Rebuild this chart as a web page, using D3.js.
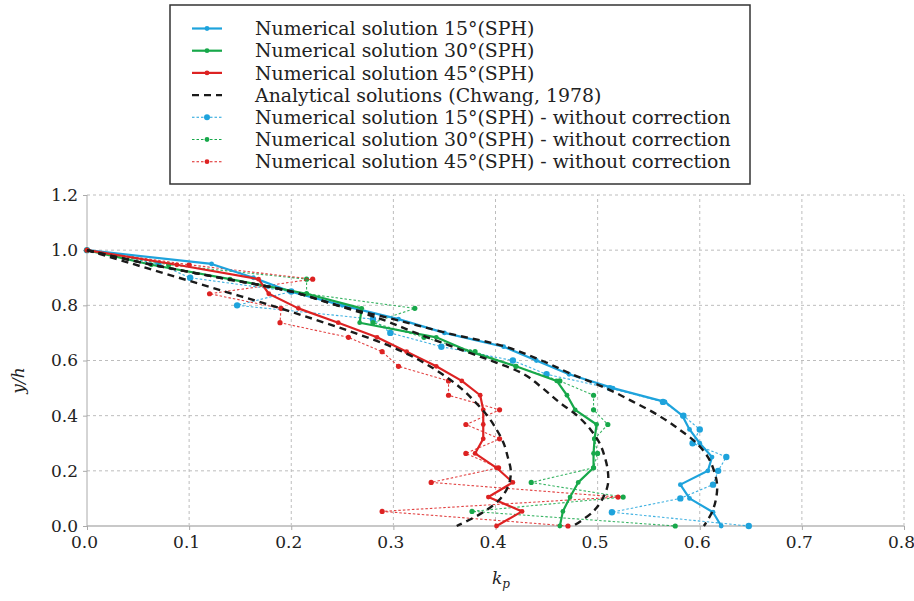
<!DOCTYPE html>
<html>
<head>
<meta charset="utf-8">
<script src="https://cdn.jsdelivr.net/npm/d3@7"></script>
<style>
  body { margin: 0; background: #fff; }
  svg text { font-family: "DejaVu Serif", serif; fill: #222; }
</style>
</head>
<body>
<svg id="chart" width="914" height="601"></svg>
<script>
// y levels (y/h) of the SPH samples
const yLevels15 = [1.0, 0.95, 0.90, 0.85, 0.80, 0.75, 0.70, 0.65, 0.60, 0.55, 0.50, 0.45, 0.40, 0.35, 0.30, 0.25, 0.20, 0.15, 0.10, 0.05, 0.0];
const yLevels = [1.0, 0.947, 0.895, 0.842, 0.789, 0.737, 0.684, 0.632, 0.579, 0.526, 0.474, 0.421, 0.368, 0.316, 0.263, 0.211, 0.158, 0.105, 0.053, 0.0];

// k_p values, corrected SPH
const kp15 = [0, 0.122, 0.163, 0.199, 0.25, 0.305, 0.35, 0.408, 0.44, 0.472, 0.515, 0.566, 0.583, 0.59, 0.60, 0.612, 0.608, 0.581, 0.59, 0.613, 0.621];
const kp30 = [0, 0.063, 0.14, 0.215, 0.269, 0.267, 0.342, 0.375, 0.42, 0.46, 0.47, 0.478, 0.499, 0.497, 0.496, 0.496, 0.481, 0.473, 0.466, 0.463];
const kp45 = [0, 0.088, 0.168, 0.178, 0.207, 0.246, 0.284, 0.313, 0.342, 0.367, 0.385, 0.388, 0.388, 0.388, 0.38, 0.401, 0.417, 0.393, 0.426, 0.401];

// k_p values, SPH without correction
const kp15Raw = [0, 0.07, 0.101, 0.2, 0.147, 0.28, 0.297, 0.347, 0.417, 0.45, 0.512, 0.564, 0.584, 0.60, 0.593, 0.626, 0.618, 0.613, 0.581, 0.514, 0.648];
const kp30Raw = [0, 0.08, 0.215, 0.215, 0.321, 0.28, 0.33, 0.38, 0.42, 0.463, 0.496, 0.496, 0.51, 0.497, 0.5, 0.496, 0.435, 0.525, 0.377, 0.576];
const kp45Raw = [0, 0.1, 0.221, 0.12, 0.19, 0.189, 0.256, 0.289, 0.305, 0.354, 0.354, 0.404, 0.371, 0.404, 0.371, 0.403, 0.337, 0.52, 0.289, 0.471];

// analytical (Chwang, 1978)
const yAnalytic = [1.0, 0.95, 0.90, 0.85, 0.80, 0.75, 0.70, 0.65, 0.60, 0.55, 0.50, 0.45, 0.40, 0.35, 0.30, 0.25, 0.20, 0.15, 0.10, 0.05, 0.0];
const ana15 = [0, 0.06, 0.13, 0.2, 0.245, 0.3, 0.352, 0.41, 0.445, 0.475, 0.508, 0.535, 0.56, 0.58, 0.597, 0.608, 0.614, 0.617, 0.616, 0.612, 0.604];
const ana30 = [0, 0.06, 0.13, 0.2, 0.245, 0.288, 0.322, 0.358, 0.395, 0.428, 0.446, 0.462, 0.48, 0.493, 0.502, 0.507, 0.51, 0.51, 0.505, 0.495, 0.476];
const ana45 = [0, 0.045, 0.09, 0.135, 0.18, 0.222, 0.262, 0.298, 0.326, 0.348, 0.366, 0.38, 0.392, 0.401, 0.408, 0.412, 0.415, 0.413, 0.405, 0.388, 0.362];

const xTicks = [0, 0.1, 0.2, 0.3, 0.4, 0.5, 0.6, 0.7, 0.8];
const yTicks = [0, 0.2, 0.4, 0.6, 0.8, 1.0, 1.2];

const legendLabels = [
	'Numerical solution 15°(SPH)',
	'Numerical solution 30°(SPH)',
	'Numerical solution 45°(SPH)',
	'Analytical solutions (Chwang, 1978)',
	'Numerical solution 15°(SPH) - without correction',
	'Numerical solution 30°(SPH) - without correction',
	'Numerical solution 45°(SPH) - without correction'
];

const colors = { blue: '#1ea3dc', green: '#17a84a', red: '#dd2222', black: '#1a1a1a' };

const svg = d3.select('#chart');

const x = d3.scaleLinear().domain([0, 0.8]).range([87, 904]);
const y = d3.scaleLinear().domain([0, 1.2]).range([526, 195]);

// grid
const grid = svg.append('g');
grid.selectAll('line.vx').data(xTicks.filter(d => d > 0)).enter()
	.append('line')
		.attr('x1', d => x(d)).attr('x2', d => x(d))
		.attr('y1', y(0)).attr('y2', y(1.2))
		.attr('stroke', '#bdbdbd').attr('stroke-width', 1).attr('stroke-dasharray', '3,3');
grid.selectAll('line.hy').data(yTicks.filter(d => d > 0)).enter()
	.append('line')
		.attr('x1', x(0)).attr('x2', x(0.8))
		.attr('y1', d => y(d)).attr('y2', d => y(d))
		.attr('stroke', '#bdbdbd').attr('stroke-width', 1).attr('stroke-dasharray', '3,3');

// axes
const xAxis = d3.axisBottom(x).tickValues(xTicks).tickFormat(d3.format('.1f')).tickSize(4).tickPadding(6);
const yAxis = d3.axisLeft(y).tickValues(yTicks).tickFormat(d3.format('.1f')).tickSize(4).tickPadding(5);

const gx = svg.append('g').attr('transform', `translate(0,${y(0)})`).call(xAxis);
const gy = svg.append('g').attr('transform', `translate(${x(0)},0)`).call(yAxis);
gx.select('.domain').attr('stroke', '#c8c8c8').attr('stroke-width', 2).attr('d', `M${x(0)},0H${x(0.8)}`);
gy.select('.domain').attr('stroke', '#aaaaaa').attr('stroke-width', 1).attr('d', `M0,${y(0)}V${y(1.2)}`);
[gx, gy].forEach(g => {
	g.selectAll('.tick line').attr('stroke', '#aaaaaa');
	g.selectAll('.tick text').attr('font-family', '"DejaVu Serif", serif').attr('font-size', 17).attr('fill', '#222');
});
gx.selectAll('.tick text').attr('dx', -3);

// axis titles
svg.append('text')
	.attr('transform', `translate(24,${(y(0) + y(1.2)) / 2 + 20}) rotate(-90)`)
	.attr('text-anchor', 'middle')
	.attr('font-size', 17).attr('font-style', 'italic')
	.text('y/h');
const kp = svg.append('text')
	.attr('x', 492).attr('y', 584)
	.attr('font-size', 17).attr('font-style', 'italic');
kp.append('tspan').text('k');
kp.append('tspan').attr('font-size', 12).attr('dy', 4).text('p');

const line = (ys) => d3.line()
	.x(d => x(d))
	.y((d, i) => y(ys[i]));

const drawRaw = (vals, ys, color, r) => {
	const g = svg.append('g');
	g.append('path').datum(vals)
		.attr('d', line(ys))
		.attr('fill', 'none')
		.attr('stroke', color)
		.attr('stroke-width', 1.1)
		.attr('stroke-opacity', 0.85)
		.attr('stroke-dasharray', '2.5,2');
	g.selectAll('circle').data(vals).enter()
		.append('circle')
			.attr('cx', d => x(d))
			.attr('cy', (d, i) => y(ys[i]))
			.attr('r', r)
			.attr('fill', color);
};

const drawSolid = (vals, ys, color) => {
	const g = svg.append('g');
	g.append('path').datum(vals)
		.attr('d', line(ys))
		.attr('fill', 'none')
		.attr('stroke', color)
		.attr('stroke-width', 2.2)
		.attr('stroke-linejoin', 'round');
	g.selectAll('circle').data(vals).enter()
		.append('circle')
			.attr('cx', d => x(d))
			.attr('cy', (d, i) => y(ys[i]))
			.attr('r', 2.4)
			.attr('fill', color);
};

drawRaw(kp15Raw, yLevels15, colors.blue, 3.2);
drawRaw(kp30Raw, yLevels, colors.green, 2.6);
drawRaw(kp45Raw, yLevels, colors.red, 2.6);

drawSolid(kp15, yLevels15, colors.blue);
drawSolid(kp30, yLevels, colors.green);
drawSolid(kp45, yLevels, colors.red);

const anaLine = d3.line()
	.x(d => x(d))
	.y((d, i) => y(yAnalytic[i]))
	.curve(d3.curveCatmullRom.alpha(0.5));
[ana15, ana30, ana45].forEach(a => {
	svg.append('path').datum(a)
		.attr('d', anaLine)
		.attr('fill', 'none')
		.attr('stroke', colors.black)
		.attr('stroke-width', 2.4)
		.attr('stroke-dasharray', '7,5');
});

// legend
const legend = svg.append('g');
legend.append('rect')
	.attr('x', 170).attr('y', 5).attr('width', 580).attr('height', 179)
	.attr('fill', '#fff').attr('stroke', '#333').attr('stroke-width', 1.5);

const legendStyles = [
	{ color: colors.blue, kind: 'solid' },
	{ color: colors.green, kind: 'solid' },
	{ color: colors.red, kind: 'solid' },
	{ color: colors.black, kind: 'analytic' },
	{ color: colors.blue, kind: 'raw' },
	{ color: colors.green, kind: 'raw' },
	{ color: colors.red, kind: 'raw' }
];
const rowY = d3.scaleLinear().domain([0, 6]).range([28.5, 161.7]);

const items = legend.selectAll('g.item').data(legendLabels).enter()
	.append('g').attr('transform', (d, i) => `translate(0,${rowY(i)})`);
items.each(function (d, i) {
	const g = d3.select(this);
	const st = legendStyles[i];
	g.append('line')
		.attr('x1', 192).attr('x2', 222).attr('y1', 0).attr('y2', 0)
		.attr('stroke', st.color)
		.attr('stroke-width', st.kind === 'solid' ? 2.2 : st.kind === 'analytic' ? 2.4 : 1.1)
		.attr('stroke-dasharray', st.kind === 'analytic' ? '7,5' : st.kind === 'raw' ? '2.5,2' : null);
	if (st.kind !== 'analytic')
		g.append('circle').attr('cx', 207).attr('cy', 0).attr('r', st.kind === 'raw' && i === 4 ? 3 : 2.4).attr('fill', st.color);
	g.append('text')
		.attr('x', 255).attr('y', 0).attr('dy', '0.35em')
		.attr('font-size', 16)
		.text(d);
});
// fit legend font to the reference width of the longest line
const texts = items.selectAll('text');
const longest = d3.max(texts.nodes(), n => n.getComputedTextLength());
texts.attr('font-size', 16 * 476 / longest);
</script>
</body>
</html>
